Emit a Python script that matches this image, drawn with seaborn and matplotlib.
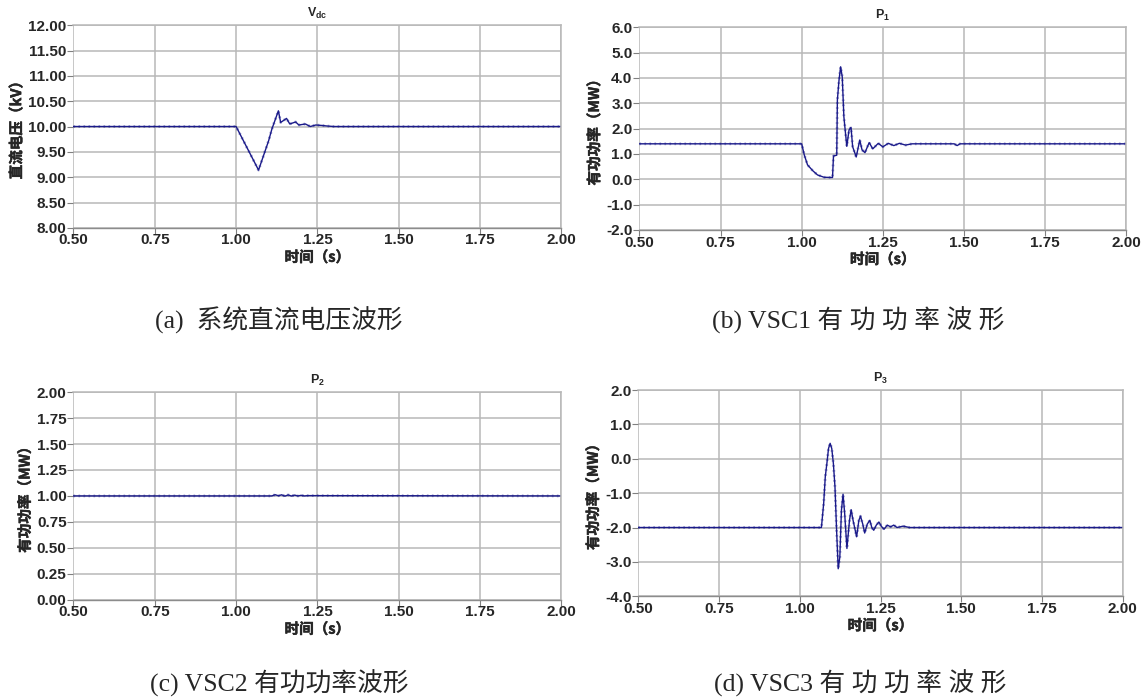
import numpy as np
import pandas as pd
import matplotlib
matplotlib.use("Agg")
import matplotlib.pyplot as plt
import matplotlib.patheffects as pe
import seaborn as sns

# 读图得到的波形关键点 (时间 s, 数值)
vdc_t = [0.50, 1.000, 1.069, 1.100, 1.110, 1.130, 1.137, 1.155, 1.165, 1.183, 1.193,
         1.213, 1.228, 1.245, 1.265, 1.280, 1.300, 2.00]
vdc_v = [10.00, 10.00, 9.14, 9.72, 9.95, 10.31, 10.08, 10.16, 10.05, 10.09, 10.03,
         10.05, 10.00, 10.03, 10.02, 10.01, 10.00, 10.00]

p1_t = [0.50, 1.000, 1.008, 1.018, 1.034, 1.049, 1.069, 1.095, 1.098, 1.108, 1.110,
        1.115, 1.120, 1.125, 1.130, 1.139, 1.146, 1.152, 1.157, 1.168, 1.179, 1.186,
        1.195, 1.208, 1.219, 1.236, 1.250, 1.267, 1.284, 1.301, 1.320, 1.340, 1.470,
        1.479, 1.488, 2.00]
p1_v = [1.40, 1.40, 0.96, 0.57, 0.34, 0.17, 0.08, 0.07, 0.92, 0.95, 3.13,
        3.91, 4.44, 4.04, 2.47, 1.30, 1.95, 2.05, 1.29, 0.88, 1.55, 1.16,
        1.05, 1.45, 1.20, 1.42, 1.28, 1.42, 1.33, 1.42, 1.35, 1.40, 1.40,
        1.33, 1.40, 1.40]

p2_t = [0.50, 1.110, 1.120, 1.130, 1.140, 1.150, 1.160, 1.170, 1.180, 1.190, 1.200,
        1.210, 1.220, 2.00]
p2_v = [1.00, 1.00, 1.012, 1.002, 1.011, 0.998, 1.010, 0.999, 1.008, 1.000, 1.006,
        1.000, 1.003, 1.00]

p3_t = [0.50, 1.067, 1.074, 1.079, 1.084, 1.089, 1.094, 1.099, 1.104, 1.109, 1.114,
        1.119, 1.124, 1.129, 1.134, 1.139, 1.146, 1.154, 1.159, 1.165, 1.176, 1.183,
        1.188, 1.195, 1.201, 1.209, 1.217, 1.223, 1.229, 1.237, 1.245, 1.253, 1.261,
        1.271, 1.281, 1.291, 1.301, 1.320, 1.340, 2.00]
p3_v = [-2.00, -2.00, -1.30, -0.52, -0.13, 0.30, 0.45, 0.30, -0.13, -0.82, -2.08,
        -3.20, -2.86, -1.50, -1.03, -1.59, -2.61, -1.79, -1.48, -1.79, -2.27, -1.79,
        -1.67, -1.90, -2.16, -1.90, -1.79, -2.00, -2.08, -1.93, -1.84, -1.97, -2.05,
        -1.93, -1.98, -1.93, -2.00, -1.96, -2.00, -2.00]

titles = [r"$\mathbf{V_{dc}}$", r"$\mathbf{P_1}$", r"$\mathbf{P_2}$", r"$\mathbf{P_3}$"]
ylabels = ["直流电压（kV）", "有功功率（MW）", "有功功率（MW）", "有功功率（MW）"]
xlabel = "时间（s）"
captions = ["(a)  系统直流电压波形", "(b) VSC1 有 功 功 率 波 形",
            "(c) VSC2 有功功率波形", "(d) VSC3 有 功 功 率 波 形"]
xticks = [0.50, 0.75, 1.00, 1.25, 1.50, 1.75, 2.00]
yticks_all = [[8.0, 8.5, 9.0, 9.5, 10.0, 10.5, 11.0, 11.5, 12.0],
              [-2.0, -1.0, 0.0, 1.0, 2.0, 3.0, 4.0, 5.0, 6.0],
              [0.0, 0.25, 0.5, 0.75, 1.0, 1.25, 1.5, 1.75, 2.0],
              [-4.0, -3.0, -2.0, -1.0, 0.0, 1.0, 2.0]]
yfmt = ["%.2f", "%.1f", "%.2f", "%.1f"]

sns.set_theme(style="whitegrid")
plt.rcParams['font.family'] = ['Liberation Sans', 'Noto Sans CJK SC', 'DejaVu Sans']
plt.rcParams['mathtext.fontset'] = 'custom'
plt.rcParams['mathtext.bf'] = 'Liberation Sans:bold'
plt.rcParams['mathtext.rm'] = 'Liberation Sans'

fig = plt.figure(figsize=(11.48, 6.99), dpi=100)
# 轴位置 [left, bottom, width, height]
boxes = [[0.064, 0.674, 0.425, 0.290],
         [0.557, 0.671, 0.424, 0.290],
         [0.064, 0.142, 0.425, 0.297],
         [0.556, 0.147, 0.422, 0.295]]
series = [(vdc_t, vdc_v), (p1_t, p1_v), (p2_t, p2_v), (p3_t, p3_v)]
line_c = "#1a1a8a"
grid_c = "#b8b8b8"
cjk_bold = ['Noto Sans CJK SC', 'DejaVu Sans']
# 中文字体没有粗体，用细描边加粗
fake_bold = [pe.withStroke(linewidth=0.35, foreground="#262626")]

for i, (t, v) in enumerate(series):
    ax = fig.add_axes(boxes[i])
    df = pd.DataFrame({"t": t, "v": v})
    sns.lineplot(data=df, x="t", y="v", ax=ax, color=line_c, lw=1.0,
                 estimator=None, sort=False)
    ax.plot(df["t"], df["v"], color=line_c, lw=2.0, ls=(0, (0.6, 1.2)), alpha=0.4)
    yt = yticks_all[i]
    ax.set_xlim(0.5, 2.0)
    ax.set_ylim(yt[0], yt[-1])
    ax.set_xticks(xticks)
    ax.set_yticks(yt)
    ax.set_xticklabels(["%.2f" % x for x in xticks], fontsize=11, fontweight="bold")
    ax.set_yticklabels([yfmt[i] % y for y in yt], fontsize=11, fontweight="bold")
    ax.grid(True, color=grid_c, lw=1.1)
    ax.set_facecolor("white")
    ax.tick_params(axis="both", length=4, width=0.8, color="#808080", pad=1,
                   left=True, bottom=True)
    ax.tick_params(axis="x", pad=0)
    for s in ["top", "right"]:
        ax.spines[s].set_color(grid_c)
        ax.spines[s].set_linewidth(1.1)
    ax.spines["left"].set_visible(False)
    ax.spines["bottom"].set_color("#8c8c8c")
    ax.spines["bottom"].set_linewidth(1.0)
    ax.set_title(titles[i], fontsize=9, pad=6)
    ax.set_xlabel(xlabel, fontsize=10.5, fontweight="bold", labelpad=1, family=cjk_bold,
                  path_effects=fake_bold)
    ax.set_ylabel(ylabels[i], fontsize=10.5, fontweight="bold", labelpad=3, family=cjk_bold,
                  path_effects=fake_bold)

cap_xy = [(0.243, 0.542), (0.748, 0.542), (0.243, 0.023), (0.749, 0.023)]
for (cx, cy), txt in zip(cap_xy, captions):
    fig.text(cx, cy, txt, ha="center", va="center", fontsize=18.5,
             family=['Liberation Serif', 'Noto Sans CJK SC'])

fig.savefig("out.png", dpi=100, facecolor="white")
